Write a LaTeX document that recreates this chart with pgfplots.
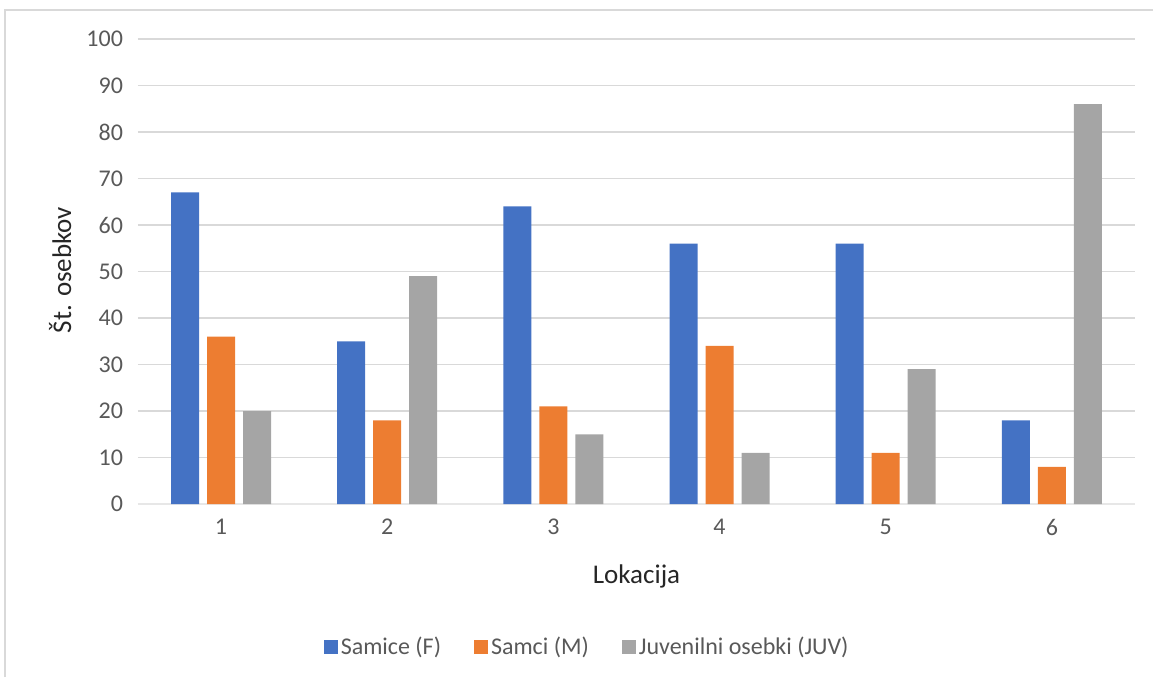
\documentclass[border=0pt]{standalone}
\usepackage{pgfplots}
\pgfplotsset{compat=1.18}
\usepackage{fontspec}
\setmainfont{Carlito}
\definecolor{cblue}{HTML}{4472C4}
\definecolor{corange}{HTML}{ED7D31}
\definecolor{cgray}{HTML}{A5A5A5}
\definecolor{ticktext}{HTML}{595959}
\definecolor{gridc}{HTML}{D9D9D9}
\begin{document}
\begin{tikzpicture}[x=1pt,y=1pt]
\path[use as bounding box] (0,0) rectangle (576.5,338.5);
\draw[gridc, line width=0.8pt] (2.5,0) -- (2.5,333.5) -- (576.5,333.5);
\begin{axis}[
  at={(69pt,86.5pt)}, anchor=south west,
  scale only axis, width=498.5pt, height=232.5pt,
  ybar=4pt, bar width=14pt,
  xmin=0.5, xmax=6.5, ymin=0, ymax=100,
  xtick={1,2,3,4,5,6}, ytick={0,10,...,100},
  ymajorgrids, grid style={gridc, line width=0.8pt},
  axis line style={draw=none},
  axis x line*=bottom, axis y line*=left,
  x axis line style={draw=gridc!80!black!30, line width=0.8pt},
  major tick length=0pt,
  tick label style={font=\fontsize{12}{14}\selectfont, text=ticktext},
  /pgf/number format/assume math mode=true,
  xticklabel style={yshift=-4pt},
  yticklabel style={xshift=-4pt},
  xlabel={Lokacija}, ylabel={Št. osebkov},
  label style={font=\fontsize{13.5}{16}\selectfont, text=black!85},
  xlabel style={at={(axis description cs:0.5,-0.155)}, anchor=center},
  ylabel style={at={(axis description cs:-0.078,0.503)}, anchor=center},
  legend style={at={(axis description cs:0.451,-0.3075)}, anchor=center,
    draw=none, legend columns=3, font=\fontsize{12}{14}\selectfont, text=ticktext,
    nodes={inner xsep=1.5pt},
    /tikz/every even column/.append style={column sep=15pt}},
  legend image code/.code={\fill[#1] (0pt,-3.5pt) rectangle (7pt,3.5pt);},
]
\addplot[fill=cblue, draw=none] coordinates {(1,67) (2,35) (3,64) (4,56) (5,56) (6,18)};
\addplot[fill=corange, draw=none] coordinates {(1,36) (2,18) (3,21) (4,34) (5,11) (6,8)};
\addplot[fill=cgray, draw=none] coordinates {(1,20) (2,49) (3,15) (4,11) (5,29) (6,86)};
\legend{Samice (F), Samci (M), Juvenilni osebki (JUV)}
\end{axis}
\end{tikzpicture}
\end{document}
